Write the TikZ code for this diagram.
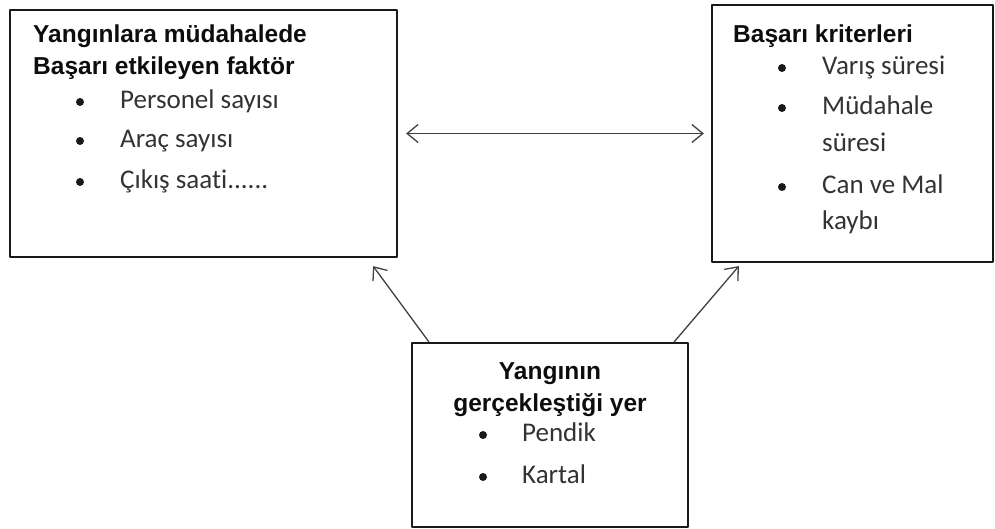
\documentclass[tikz,border=0pt]{standalone}
\usepackage{fontspec}
\newfontfamily\headfont{Liberation Sans}
\newfontfamily\itemfont{Carlito}[Ligatures=NoCommon]
\usetikzlibrary{arrows.meta,positioning}
\tikzset{
	box/.style={draw=black!90, line width=2.2pt, rectangle, inner sep=0pt},
	head/.style={font=\headfont\bfseries\fontsize{24.5}{29}\selectfont, text=black!95, inner sep=0pt},
	item/.style={font=\itemfont\fontsize{27}{32}\selectfont, text=black!80, anchor=base west, inner sep=0pt},
	link/.style={draw=black!75, line width=1.3pt},
}
\begin{document}
\begin{tikzpicture}[x=1pt, y=-1pt, line join=round, line cap=round, >={Straight Barb[length=11pt,width=18pt]}]
	\useasboundingbox (0,0) rectangle (995,529);
	% the three boxes
	\node[box, minimum width=387pt, minimum height=247pt] (factors) at (203.5,133.5) {};
	\node[box, minimum width=281pt, minimum height=257pt] (criteria) at (852.5,133.5) {};
	\node[box, minimum width=276pt, minimum height=184pt] (place) at (550,435) {};
	% left box
	\node[head, anchor=base west] (factorsA) at (33,42.5) {Yangınlara müdahalede};
	\node[head, anchor=base west] (factorsB) at (33,74.5) {Başarı etkileyen faktör};
	\node[item] (staff) at (120,108.5) {Personel sayısı};
	\node[item] (cars) at (120,147.5) {Araç sayısı};
	\node[item] (start) at (120,188.5) {Çıkış saati......};
	% right box
	\node[head, anchor=base west] (critA) at (733,42.5) {Başarı kriterleri};
	\node[item] (arrival) at (822,74.5) {Varış süresi};
	\node[item] (respA) at (822,114.5) {Müdahale};
	\node[item] (respB) at (822,151.5) {süresi};
	\node[item] (lossA) at (822,193.5) {Can ve Mal};
	\node[item] (lossB) at (822,229.5) {kaybı};
	% bottom box
	\node[head, anchor=base] (placeA) at (550,379.5) {Yangının};
	\node[head, anchor=base] (placeB) at (550,411.5) {gerçekleştiği yer};
	\node[item] (pendik) at (522,441.5) {Pendik};
	\node[item] (kartal) at (522,483.5) {Kartal};
	\foreach \p in {(80,102),(80,141),(80,182),(782,68),(782,108),(782,187),(483,435),(483,477)}
	\fill[black!90] \p circle (4pt);
	% arrows
	\draw[link, <->, shorten <=8pt, shorten >=7pt] (factors.east) -- (criteria.west);
	\draw[link, ->] ([xshift=18pt]place.north west) -- ([shift={(-25pt,-8pt)}]factors.south east);
	\draw[link, ->] ([xshift=-15pt]place.north east) -- ([shift={(28pt,-3pt)}]criteria.south west);
\end{tikzpicture}
\end{document}
